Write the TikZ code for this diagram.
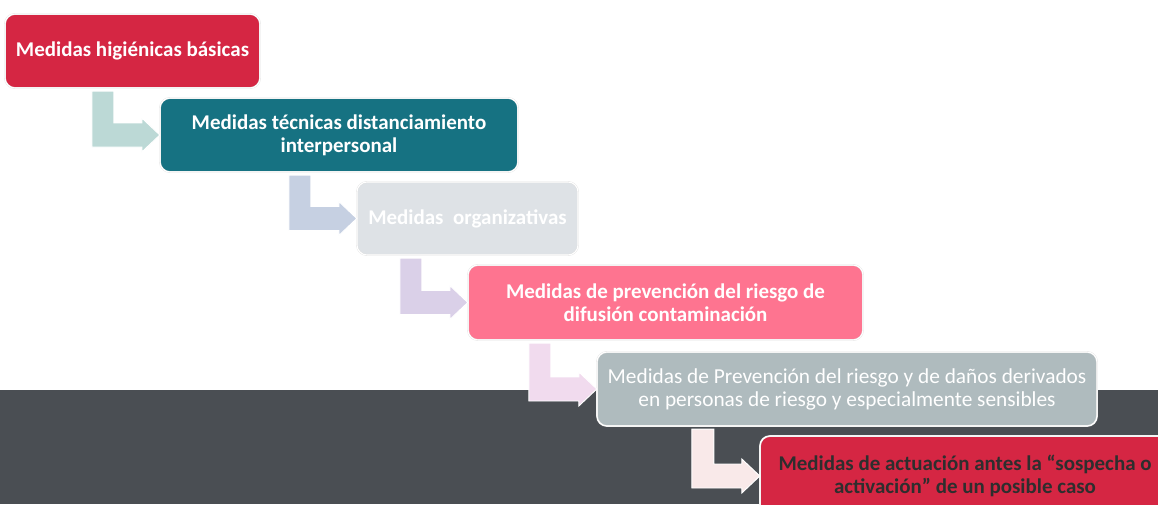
\documentclass[tikz,border=0pt]{standalone}
\usepackage{fontspec}
\setmainfont{Carlito}
\usepackage{xcolor}
\usetikzlibrary{calc}

\definecolor{crimson}{HTML}{D52643}
\definecolor{tealbox}{HTML}{167282}
\definecolor{palegray}{HTML}{DEE2E6}
\definecolor{rosebox}{HTML}{FE7490}
\definecolor{slatebox}{HTML}{AFBBBE}
\definecolor{bandgray}{HTML}{4A4E53}
\definecolor{darktext}{HTML}{2E2E2E}
\definecolor{arrowA}{HTML}{BCD9D6}
\definecolor{arrowB}{HTML}{C6D0E2}
\definecolor{arrowC}{HTML}{DAD0E8}
\definecolor{arrowD}{HTML}{F1DBEE}
\definecolor{arrowE}{HTML}{F9E9E9}

% bent block arrow: below node #1, into the west side of node #2
\newcommand{\bentarrow}[3]{%
  \filldraw[#3, draw=white, line width=0.8pt] let \p1=(#1.south), \p2=(#2.west) in
    (\x2-2.04cm,\y1-0.09cm) -- (\x2-1.38cm,\y1-0.09cm) -- (\x2-1.38cm,\y2+0.36cm)
    -- (\x2-0.54cm,\y2+0.36cm) -- (\x2-0.54cm,\y2+0.51cm) -- (\x2,\y2)
    -- (\x2-0.54cm,\y2-0.51cm) -- (\x2-0.54cm,\y2-0.36cm) -- (\x2-2.04cm,\y2-0.36cm) -- cycle;}

\begin{document}
\begin{tikzpicture}[x=0.03cm, y=-0.03cm,
    stepbox/.style={rounded corners=0.3cm, draw=black!12, double=white, double distance=0.9pt,
      line width=0.3pt, inner sep=0pt, align=center, text=white,
      font=\fontsize{17.9}{19.6}\selectfont\bfseries}]
  \useasboundingbox (0,0) rectangle (1158,504);
  \fill[bandgray] (0,390) rectangle (1158,504);

  \node[stepbox, fill=crimson, minimum width=7.65cm, minimum height=2.22cm] (higiene) at (132.5,51) {Medidas higiénicas básicas};
  \node[stepbox, fill=tealbox, minimum width=10.74cm, minimum height=2.22cm] (distancia) at (339,135) {Medidas técnicas distanciamiento\\interpersonal};
  \node[stepbox, fill=palegray, minimum width=6.63cm, minimum height=2.19cm] (organiza) at (467.5,218.5) {Medidas\ \ organizativas};
  \node[stepbox, fill=rosebox, minimum width=11.85cm, minimum height=2.25cm] (difusion) at (665.5,302.5) {Medidas de prevención del riesgo de\\difusión contaminación};
  \node[stepbox, fill=slatebox, minimum width=15cm, minimum height=2.22cm,
    font=\fontsize{18.2}{19.6}\selectfont] (sensibles) at (847,389) {Medidas de Prevención del riesgo y de daños derivados\\en personas de riesgo y especialmente sensibles};
  \node[stepbox, fill=crimson, text=darktext, minimum width=12.3cm, minimum height=2.4cm] (sospecha) at (965,476) {Medidas de actuación antes la “sospecha o\\activación” de un posible caso};

  \bentarrow{higiene}{distancia}{arrowA}
  \bentarrow{distancia}{organiza}{arrowB}
  \bentarrow{organiza}{difusion}{arrowC}
  \bentarrow{difusion}{sensibles}{arrowD}
  \bentarrow{sensibles}{sospecha}{arrowE}
\end{tikzpicture}
\end{document}
